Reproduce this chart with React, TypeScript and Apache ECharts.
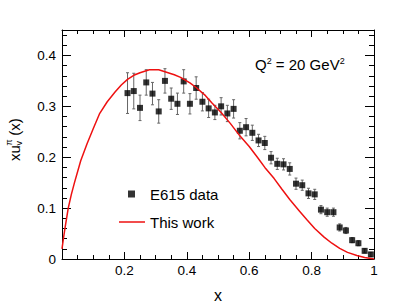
import React, { useEffect, useRef } from "react";
import * as echarts from "echarts";

const dataX = [0.21, 0.23, 0.25, 0.27, 0.29, 0.31, 0.33, 0.35, 0.37, 0.39, 0.41, 0.43, 0.45, 0.47, 0.49, 0.51, 0.53, 0.55, 0.57, 0.59, 0.61, 0.63, 0.65, 0.67, 0.69, 0.71, 0.73, 0.75, 0.77, 0.79, 0.81, 0.83, 0.85, 0.87, 0.89, 0.91, 0.93, 0.95, 0.97, 0.99];
const dataY = [0.326, 0.330, 0.297, 0.347, 0.325, 0.290, 0.350, 0.315, 0.305, 0.349, 0.305, 0.336, 0.309, 0.296, 0.288, 0.300, 0.286, 0.295, 0.252, 0.259, 0.248, 0.233, 0.228, 0.199, 0.187, 0.186, 0.177, 0.148, 0.145, 0.129, 0.127, 0.097, 0.092, 0.092, 0.062, 0.056, 0.037, 0.031, 0.016, 0.009];
const dataErr = [0.040, 0.035, 0.025, 0.025, 0.022, 0.023, 0.024, 0.021, 0.021, 0.023, 0.020, 0.022, 0.018, 0.018, 0.014, 0.017, 0.016, 0.018, 0.016, 0.017, 0.015, 0.012, 0.013, 0.012, 0.011, 0.011, 0.012, 0.011, 0.010, 0.010, 0.010, 0.008, 0.008, 0.008, 0.007, 0.006, 0.005, 0.005, 0.004, 0.004];

const curveX = [0, 0.005, 0.01, 0.02, 0.03, 0.04, 0.06, 0.08, 0.1, 0.12, 0.145, 0.17, 0.19, 0.21, 0.23, 0.25, 0.28, 0.31, 0.33, 0.36, 0.38, 0.41, 0.43, 0.46, 0.48, 0.51, 0.54, 0.57, 0.6, 0.625, 0.65, 0.68, 0.705, 0.73, 0.76, 0.785, 0.81, 0.84, 0.865, 0.89, 0.915, 0.945, 0.97, 1.0];
const curveY = [0.02, 0.042, 0.062, 0.100, 0.127, 0.150, 0.193, 0.226, 0.256, 0.285, 0.309, 0.328, 0.342, 0.353, 0.361, 0.366, 0.372, 0.372, 0.368, 0.362, 0.357, 0.346, 0.337, 0.321, 0.307, 0.288, 0.266, 0.242, 0.221, 0.201, 0.180, 0.158, 0.137, 0.117, 0.095, 0.077, 0.060, 0.043, 0.031, 0.021, 0.013, 0.007, 0.003, 0];

const xTicks = ["0.2", "0.4", "0.6", "0.8", "1"];

const FONT = "Liberation Sans, Arial, Helvetica, sans-serif";

export default function App() {
  const ref = useRef<HTMLDivElement>(null);
  useEffect(() => {
    if (!ref.current) return;
    const chart = echarts.init(ref.current, null, { renderer: "svg" });
    const axisCommon = {
      axisLine: { show: true, onZero: false, lineStyle: { color: "#000", width: 1 } },
      splitLine: { show: false },
    };
    const xTick = { show: true, inside: true, length: 7, lineStyle: { color: "#000" } };
    const xMinor = { show: true, splitNumber: 4, length: 4, lineStyle: { color: "#000" } };
    const yTick = { show: true, inside: true, length: 9, lineStyle: { color: "#000" } };
    const yMinor = { show: true, splitNumber: 5, length: 5, lineStyle: { color: "#000" } };
    const option: any = {
      animation: false,
      backgroundColor: "#fff",
      grid: { left: 62, top: 30, width: 312, height: 229, containLabel: false },
      xAxis: [
        {
          type: "value", min: 0, max: 1, interval: 0.2, position: "bottom",
          ...axisCommon, axisTick: xTick, minorTick: xMinor,
          axisLabel: {
            margin: 4, fontSize: 13.5, color: "#000", fontFamily: FONT,
            formatter: (v: number) => {
              const s = String(Math.round(v * 10) / 10);
              return xTicks.indexOf(s) >= 0 ? s : "";
            },
          },
        },
        {
          type: "value", min: 0, max: 1, interval: 0.2, position: "top",
          ...axisCommon, axisTick: xTick, minorTick: xMinor,
          axisLabel: { show: false },
        },
      ],
      yAxis: [
        {
          type: "value", min: 0, max: 0.45, interval: 0.1, position: "left",
          ...axisCommon, axisTick: yTick, minorTick: yMinor,
          axisLabel: {
            margin: 6, fontSize: 13.5, color: "#000", fontFamily: FONT, showMaxLabel: false,
            formatter: (v: number) => String(Math.round(v * 10) / 10),
          },
        },
        {
          type: "value", min: 0, max: 0.45, interval: 0.1, position: "right",
          ...axisCommon, axisTick: yTick, minorTick: yMinor,
          axisLabel: { show: false },
        },
      ],
      legend: [
        {
          data: [{ name: "E615 data", icon: "rect" }],
          left: 128, top: 186.5, padding: 0, itemWidth: 7, itemHeight: 7,
          textStyle: { fontSize: 15, color: "#000", fontFamily: FONT, padding: [0, 0, 0, 10] },
        },
        {
          data: [{ name: "This work", icon: "rect" }],
          left: 119, top: 214.5, padding: 0, itemWidth: 26, itemHeight: 1.5,
          textStyle: { fontSize: 15, color: "#000", fontFamily: FONT },
        },
      ],
      graphic: [
        {
          type: "text", left: 255, top: 56,
          style: {
            text: "Q{sup|2} = 20 GeV{sup|2}",
            fontSize: 15, fontFamily: FONT, fill: "#000",
            rich: { sup: { fontSize: 9, fontFamily: FONT, padding: [0, 0, 8, 0] } },
          },
        },
        {
          type: "text", x: 218, y: 295,
          style: { text: "x", fontSize: 16, fontFamily: FONT, fill: "#000", textAlign: "center", textVerticalAlign: "middle" },
        },
        {
          type: "group", x: 14, y: 141, rotation: Math.PI / 2,
          children: [
            { type: "text", x: -20, y: 0, style: { text: "xu", fontSize: 15, fontFamily: FONT, fill: "#000", textVerticalAlign: "middle" } },
            { type: "text", x: -4.5, y: -5, style: { text: "π", fontSize: 9, fontFamily: FONT, fill: "#000", textVerticalAlign: "middle" } },
            { type: "text", x: -4.5, y: 4.5, style: { text: "v", fontSize: 9, fontFamily: FONT, fill: "#000", textVerticalAlign: "middle" } },
            { type: "text", x: 1, y: 0, style: { text: " (x)", fontSize: 15, fontFamily: FONT, fill: "#000", textVerticalAlign: "middle" } },
          ],
        },
      ],
      series: [
        {
          type: "custom",
          name: "errors",
          xAxisIndex: 0, yAxisIndex: 0,
          data: dataX.map((x, i) => [x, dataY[i], dataErr[i]]),
          encode: { x: 0, y: 1 },
          z: 2,
          renderItem: (params: any, api: any) => {
            const x = api.value(0), y = api.value(1), e = api.value(2);
            const t = api.coord([x, y + e]);
            const b = api.coord([x, y - e]);
            const cap = 1.5;
            const st = { stroke: "#666", lineWidth: 1 };
            return {
              type: "group",
              children: [
                { type: "line", shape: { x1: t[0], y1: t[1], x2: b[0], y2: b[1] }, style: st },
                { type: "line", shape: { x1: t[0] - cap, y1: t[1], x2: t[0] + cap, y2: t[1] }, style: st },
                { type: "line", shape: { x1: b[0] - cap, y1: b[1], x2: b[0] + cap, y2: b[1] }, style: st },
              ],
            };
          },
        },
        {
          type: "scatter",
          name: "E615 data",
          xAxisIndex: 0, yAxisIndex: 0,
          symbol: "rect", symbolSize: 6,
          itemStyle: { color: "#000" },
          z: 3,
          data: dataX.map((x, i) => [x, dataY[i]]),
        },
        {
          type: "line",
          name: "This work",
          xAxisIndex: 0, yAxisIndex: 0,
          smooth: false, symbol: "none", showSymbol: false,
          lineStyle: { color: "#ee1111", width: 1.5, join: "round" },
          itemStyle: { color: "#ee1111" },
          z: 4,
          data: curveX.map((x, i) => [x, curveY[i]]),
        },
      ],
    };
    chart.setOption(option);
    return () => chart.dispose();
  }, []);
  return (
    <div
      ref={ref}
      style={{ position: "fixed", left: 0, top: 0, width: 415, height: 305, background: "#fff" }}
    />
  );
}
